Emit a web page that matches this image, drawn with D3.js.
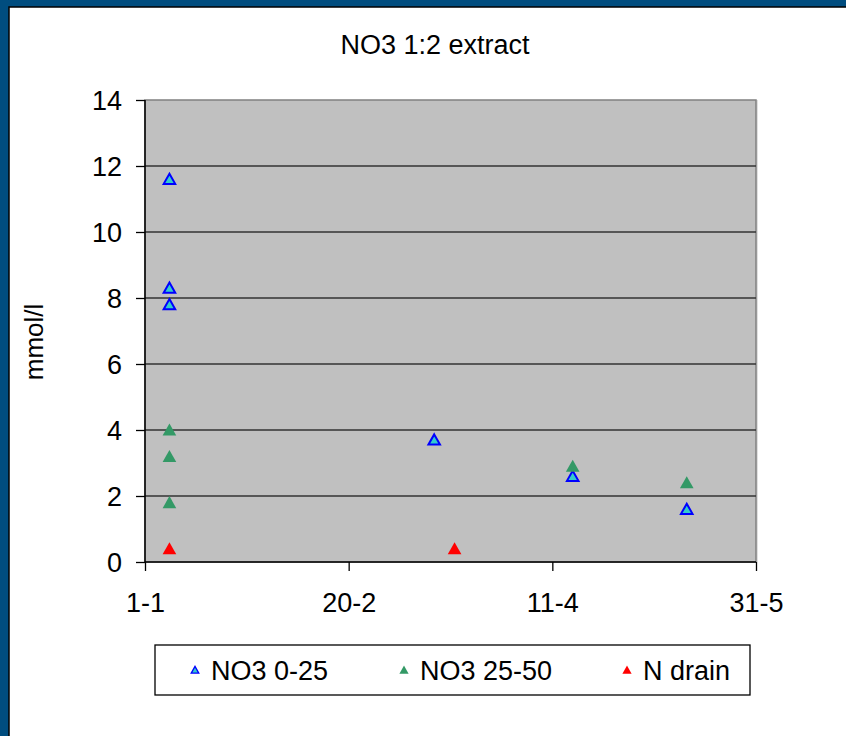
<!DOCTYPE html>
<html>
<head>
<meta charset="utf-8">
<script src="https://d3js.org/d3.v7.min.js"></script>
<style>
  body { margin: 0; background: #fff; }
  svg text { font-family: "Liberation Sans", Arial, sans-serif; fill: #000; }
</style>
</head>
<body>
<svg id="chart" width="846" height="736"></svg>
<script>
  // data
  const tickDates = ["2001-01-01", "2001-02-20", "2001-04-11", "2001-05-31"];
  const yTicks = [0, 2, 4, 6, 8, 10, 12, 14];

  const topDates = ["2001-01-07", "2001-01-07", "2001-01-07", "2001-03-13", "2001-04-16", "2001-05-14"];
  const topValues = [11.6, 8.3, 7.8, 3.7, 2.6, 1.6];

  const subDates = ["2001-01-07", "2001-01-07", "2001-01-07", "2001-04-16", "2001-05-14"];
  const subValues = [4.0, 3.2, 1.8, 2.9, 2.4];

  const drainDates = ["2001-01-07", "2001-03-18"];
  const drainValues = [0.4, 0.4];

  const seriesNames = ["NO3 0-25", "NO3 25-50", "N drain"];

  const margin = { top: 100, right: 90, bottom: 174, left: 145 };

  const svg = d3.select("#chart"),
    W = +svg.attr("width"),
    H = +svg.attr("height"),
    width = W - margin.left - margin.right,
    height = H - margin.top - margin.bottom;

  // frame: blue border top/left only
  svg.append("rect").attr("width", W).attr("height", H).attr("fill", "#004d7f");
  svg.append("rect").attr("x", 9).attr("y", 7).attr("width", W + 20).attr("height", H + 20)
    .attr("fill", "#fff").attr("stroke", "#000").attr("stroke-width", 1.5);

  const parse = d3.utcParse("%Y-%m-%d");
  const x = d3.scaleUtc()
    .domain([parse(tickDates[0]), parse(tickDates[tickDates.length - 1])])
    .range([0, width]);
  const y = d3.scaleLinear().domain([0, 14]).range([height, 0]);

  const g = svg.append("g").attr("transform", `translate(${margin.left},${margin.top})`);

  // plot area + shadow
  g.append("rect").attr("x", 2).attr("y", 0).attr("width", width).attr("height", height)
    .attr("fill", "#e0e0e0");
  g.append("rect").attr("width", width).attr("height", height)
    .attr("fill", "#c0c0c0").attr("stroke", "#808080").attr("stroke-width", 1.5);

  // gridlines
  g.append("g")
    .selectAll("line")
    .data(yTicks.filter(d => d > 0 && d < 14))
    .enter().append("line")
    .attr("x1", 0).attr("x2", width)
    .attr("y1", d => y(d)).attr("y2", d => y(d))
    .attr("stroke", "#333").attr("stroke-width", 1.3);

  // y axis
  const yAxis = g.append("g")
    .call(d3.axisLeft(y).tickValues(yTicks).tickSize(9).tickPadding(14).tickFormat(d3.format("d")));
  yAxis.select(".domain").attr("stroke", "#000").attr("stroke-width", 1.5).attr("d", `M0,0V${height}`);
  yAxis.selectAll(".tick line").attr("stroke", "#000").attr("stroke-width", 1.3);
  yAxis.selectAll(".tick text").style("font-size", "27px").attr("dy", "0.36em");

  // x axis
  const xAxis = g.append("g")
    .attr("transform", `translate(0,${height})`)
    .call(d3.axisBottom(x).tickValues(tickDates.map(parse)).tickSize(9).tickPadding(22)
      .tickFormat(d3.utcFormat("%-d-%-m")));
  xAxis.select(".domain").attr("stroke", "#000").attr("stroke-width", 1.5).attr("d", `M0,0H${width}`);
  xAxis.selectAll(".tick line").attr("stroke", "#000").attr("stroke-width", 1.3);
  xAxis.selectAll(".tick text").style("font-size", "27px");

  // title and axis label
  svg.append("text")
    .attr("x", 435).attr("y", 54)
    .attr("text-anchor", "middle")
    .style("font-size", "27px")
    .text("NO3 1:2 extract");

  svg.append("text")
    .attr("transform", `translate(43,342) rotate(-90)`)
    .attr("text-anchor", "middle")
    .style("font-size", "26px")
    .text("mmol/l");

  // markers
  const tri = s => `M0,${-s}L${s * 1.05},${s * 0.85}L${-s * 1.05},${s * 0.85}Z`;

  const styles = [
    { fill: "#33cccc", stroke: "#0000ff", sw: 2 },
    { fill: "#339966", stroke: "none", sw: 0 },
    { fill: "#ff0000", stroke: "none", sw: 0 }
  ];

  const series = [
    d3.zip(topDates, topValues),
    d3.zip(subDates, subValues),
    d3.zip(drainDates, drainValues)
  ];

  series.forEach((pts, i) => {
    g.append("g")
      .selectAll("path")
      .data(pts)
      .enter().append("path")
      .attr("transform", d => `translate(${x(parse(d[0]))},${y(d[1])})`)
      .attr("d", i === 0 ? tri(5.5) : tri(6.5))
      .attr("fill", styles[i].fill)
      .attr("stroke", styles[i].stroke)
      .attr("stroke-width", styles[i].sw);
  });

  // legend
  const legend = svg.append("g").attr("transform", "translate(155,645)");
  legend.append("rect").attr("width", 595).attr("height", 50)
    .attr("fill", "#fff").attr("stroke", "#000").attr("stroke-width", 1.3);

  const legendX = [40, 249, 472];
  const item = legend.selectAll(".item")
    .data(seriesNames)
    .enter().append("g")
    .attr("class", "item")
    .attr("transform", (d, i) => `translate(${legendX[i]},25)`);

  item.append("path")
    .attr("d", (d, i) => i === 0 ? tri(3.6) : tri(4.4))
    .attr("fill", (d, i) => styles[i].fill)
    .attr("stroke", (d, i) => styles[i].stroke)
    .attr("stroke-width", (d, i) => styles[i].sw ? 1.3 : 0);

  item.append("text")
    .attr("x", 16).attr("dy", "0.36em")
    .style("font-size", "27px")
    .text(d => d);
</script>
</body>
</html>
